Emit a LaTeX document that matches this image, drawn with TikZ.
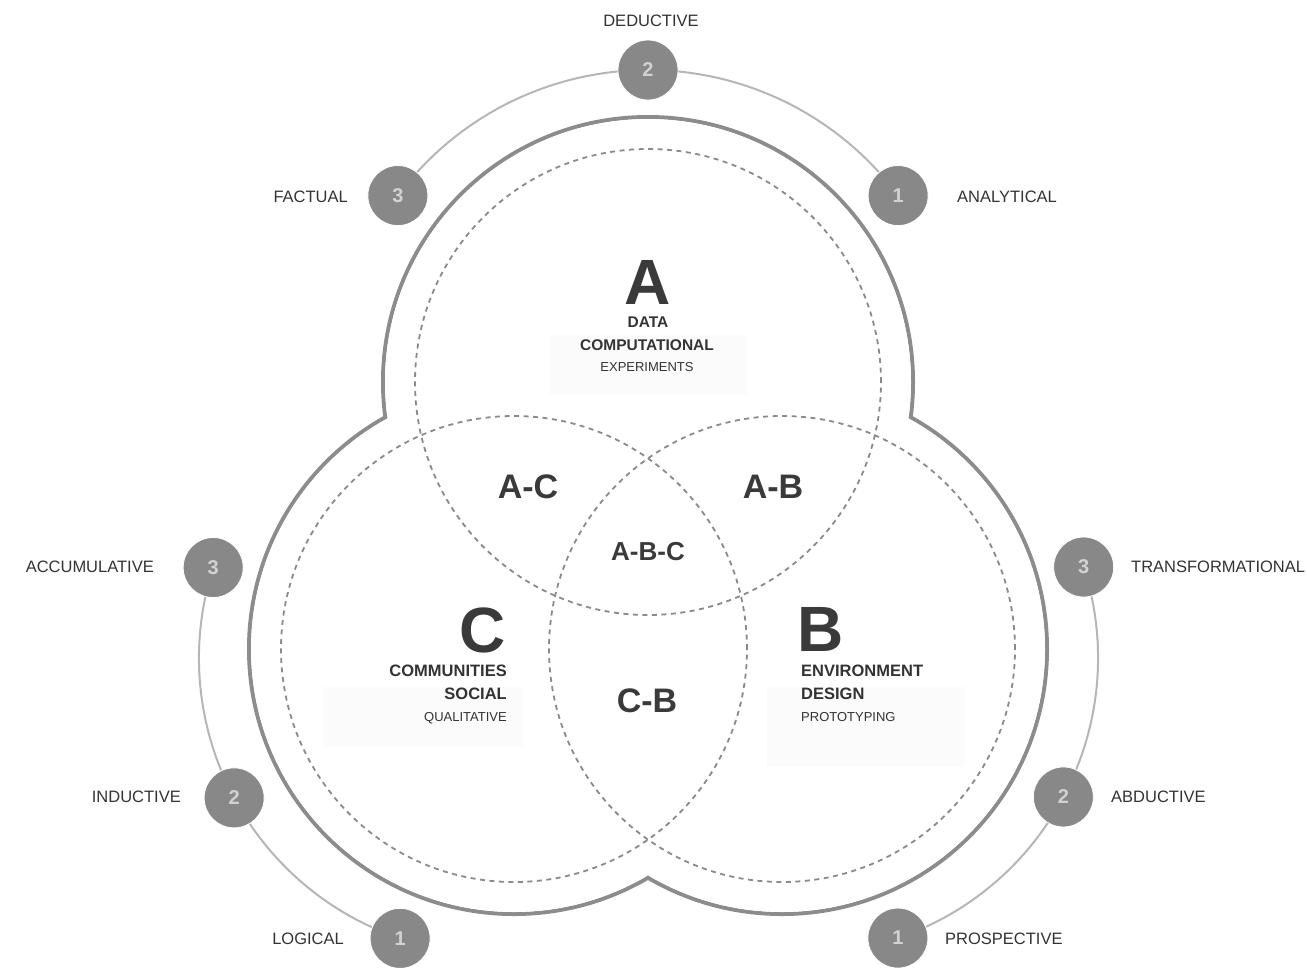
\documentclass[tikz,border=0pt]{standalone}
\usepackage{fontspec}
\setmainfont{Liberation Sans}
\definecolor{dashgray}{HTML}{8A8A8A}
\definecolor{outgray}{HTML}{8C8C8C}
\definecolor{arcgray}{HTML}{B6B6B6}
\definecolor{badgegray}{HTML}{888888}
\definecolor{numgray}{HTML}{D2D2D2}
\definecolor{txt}{HTML}{333333}
\definecolor{bigtxt}{HTML}{3A3A3A}
\definecolor{bgbox}{HTML}{FBFBFB}
\begin{document}
\begin{tikzpicture}[x=1pt,y=1pt,
  dashc/.style={draw=dashgray, line width=1.8pt, dash pattern=on 5pt off 4.5pt},
  outerline/.style={draw=outgray, line width=4pt},
  arcline/.style={draw=arcgray, line width=2pt},
  badge/.style={circle, fill=badgegray, draw=white, line width=0.8pt, minimum size=60pt, inner sep=0pt, text=numgray, font=\bfseries\fontsize{20}{20}\selectfont},
  lab/.style={text=txt, font=\fontsize{16.5}{18}\selectfont, inner sep=0pt, text depth=0pt},
  big/.style={text=bigtxt, font=\bfseries\fontsize{64}{64}\selectfont, inner sep=0pt, text depth=0pt},
  subb/.style={text=txt, font=\bfseries\fontsize{15.5}{16}\selectfont, inner sep=0pt, text depth=0pt},
  subbl/.style={text=txt, font=\bfseries\fontsize{16.5}{17}\selectfont, inner sep=0pt, text depth=0pt},
  subr/.style={text=txt, font=\fontsize{13}{14}\selectfont, inner sep=0pt, text depth=0pt},
  inter/.style={text=bigtxt, font=\bfseries\fontsize{34}{34}\selectfont, inner sep=0pt, text depth=0pt},
  inters/.style={text=bigtxt, font=\bfseries\fontsize{26}{26}\selectfont, inner sep=0pt, text depth=0pt},
  bgrect/.style={fill=bgbox}]
\useasboundingbox (0,0) rectangle (1307,-967);
\coordinate (A) at (648,-382);
\coordinate (B) at (782,-649);
\coordinate (C) at (514,-649);
\coordinate (Bo) at (802,-658);
\coordinate (Co) at (495,-658);
% outer union boundary
\foreach \c in {A,B,C} \draw[outerline] (\c) circle[radius=265];
\foreach \c in {A,B,C} \fill[white] (\c) circle[radius=263];
% faint background boxes
\fill[bgrect] (550,-335) rectangle (747,-395);
\fill[bgrect] (323,-687) rectangle (523,-747);
\fill[bgrect] (767,-687) rectangle (965,-767);
% dashed circles
\foreach \c in {A,B,C} \draw[dashc] (\c) circle[radius=233];
% outer arcs
\draw[arcline] ([shift={(143.3:312)}]A) arc[start angle=143.3, end angle=36.7, radius=312];
\draw[arcline] ([shift={(162.2:296)}]Co) arc[start angle=162.2, end angle=251.3, radius=296];
\draw[arcline] ([shift={(17.9:296)}]Bo) arc[start angle=17.9, end angle=-71.1, radius=296];
% badges
\node[badge] (a3) at ([shift={(143.3:312)}]A) {3};
\node[badge] (a2) at ([shift={(90:312)}]A) {2};
\node[badge] (a1) at ([shift={(36.7:312)}]A) {1};
\node[badge] (c3) at ([shift={(162.2:296)}]Co) {3};
\node[badge] (c2) at ([shift={(208.2:296)}]Co) {2};
\node[badge] (c1) at ([shift={(251.3:296)}]Co) {1};
\node[badge] (b3) at ([shift={(17.9:296)}]Bo) {3};
\node[badge] (b2) at ([shift={(-28:296)}]Bo) {2};
\node[badge] (b1) at ([shift={(-71.1:296)}]Bo) {1};
% outer labels
\node[lab] (ded) at (651,-21) {DEDUCTIVE};
\node[lab, anchor=east] (fac) at (348,-197) {FACTUAL};
\node[lab, anchor=west] (ana) at (957,-197) {ANALYTICAL};
\node[lab, anchor=east] (acc) at (154,-567) {ACCUMULATIVE};
\node[lab, anchor=west] (tra) at (1131,-567) {TRANSFORMATIONAL};
\node[lab, anchor=east] (ind) at (181,-797) {INDUCTIVE};
\node[lab, anchor=west] (abd) at (1111,-797) {ABDUCTIVE};
\node[lab, anchor=east] (log) at (344,-939) {LOGICAL};
\node[lab, anchor=west] (pro) at (945,-939) {PROSPECTIVE};
% A block
\node[big] (ltrA) at (648,-282) {A};
\node[subb] (dat) at (648,-322) {DATA};
\node[subb] (comp) at (647,-345) {COMPUTATIONAL};
\node[subr] (expe) at (647,-367) {EXPERIMENTS};
% C block
\node[big, anchor=east] (ltrC) at (506,-630) {C};
\node[subbl, anchor=east] (comm) at (507,-671) {COMMUNITIES};
\node[subbl, anchor=east] (soc) at (507,-694) {SOCIAL};
\node[subr, anchor=east] (qual) at (507,-717) {QUALITATIVE};
% B block
\node[big, anchor=west] (ltrB) at (797,-629) {B};
\node[subbl, anchor=west] (env) at (801,-671) {ENVIRONMENT};
\node[subbl, anchor=west] (des) at (801,-694) {DESIGN};
\node[subr, anchor=west] (prot) at (801,-717) {PROTOTYPING};
% intersections
\node[inter] (ac) at (528,-487) {A-C};
\node[inter] (ab) at (773,-487) {A-B};
\node[inters] (abc) at (648,-551) {A-B-C};
\node[inter] (cb) at (647,-701) {C-B};
\end{tikzpicture}
\end{document}
